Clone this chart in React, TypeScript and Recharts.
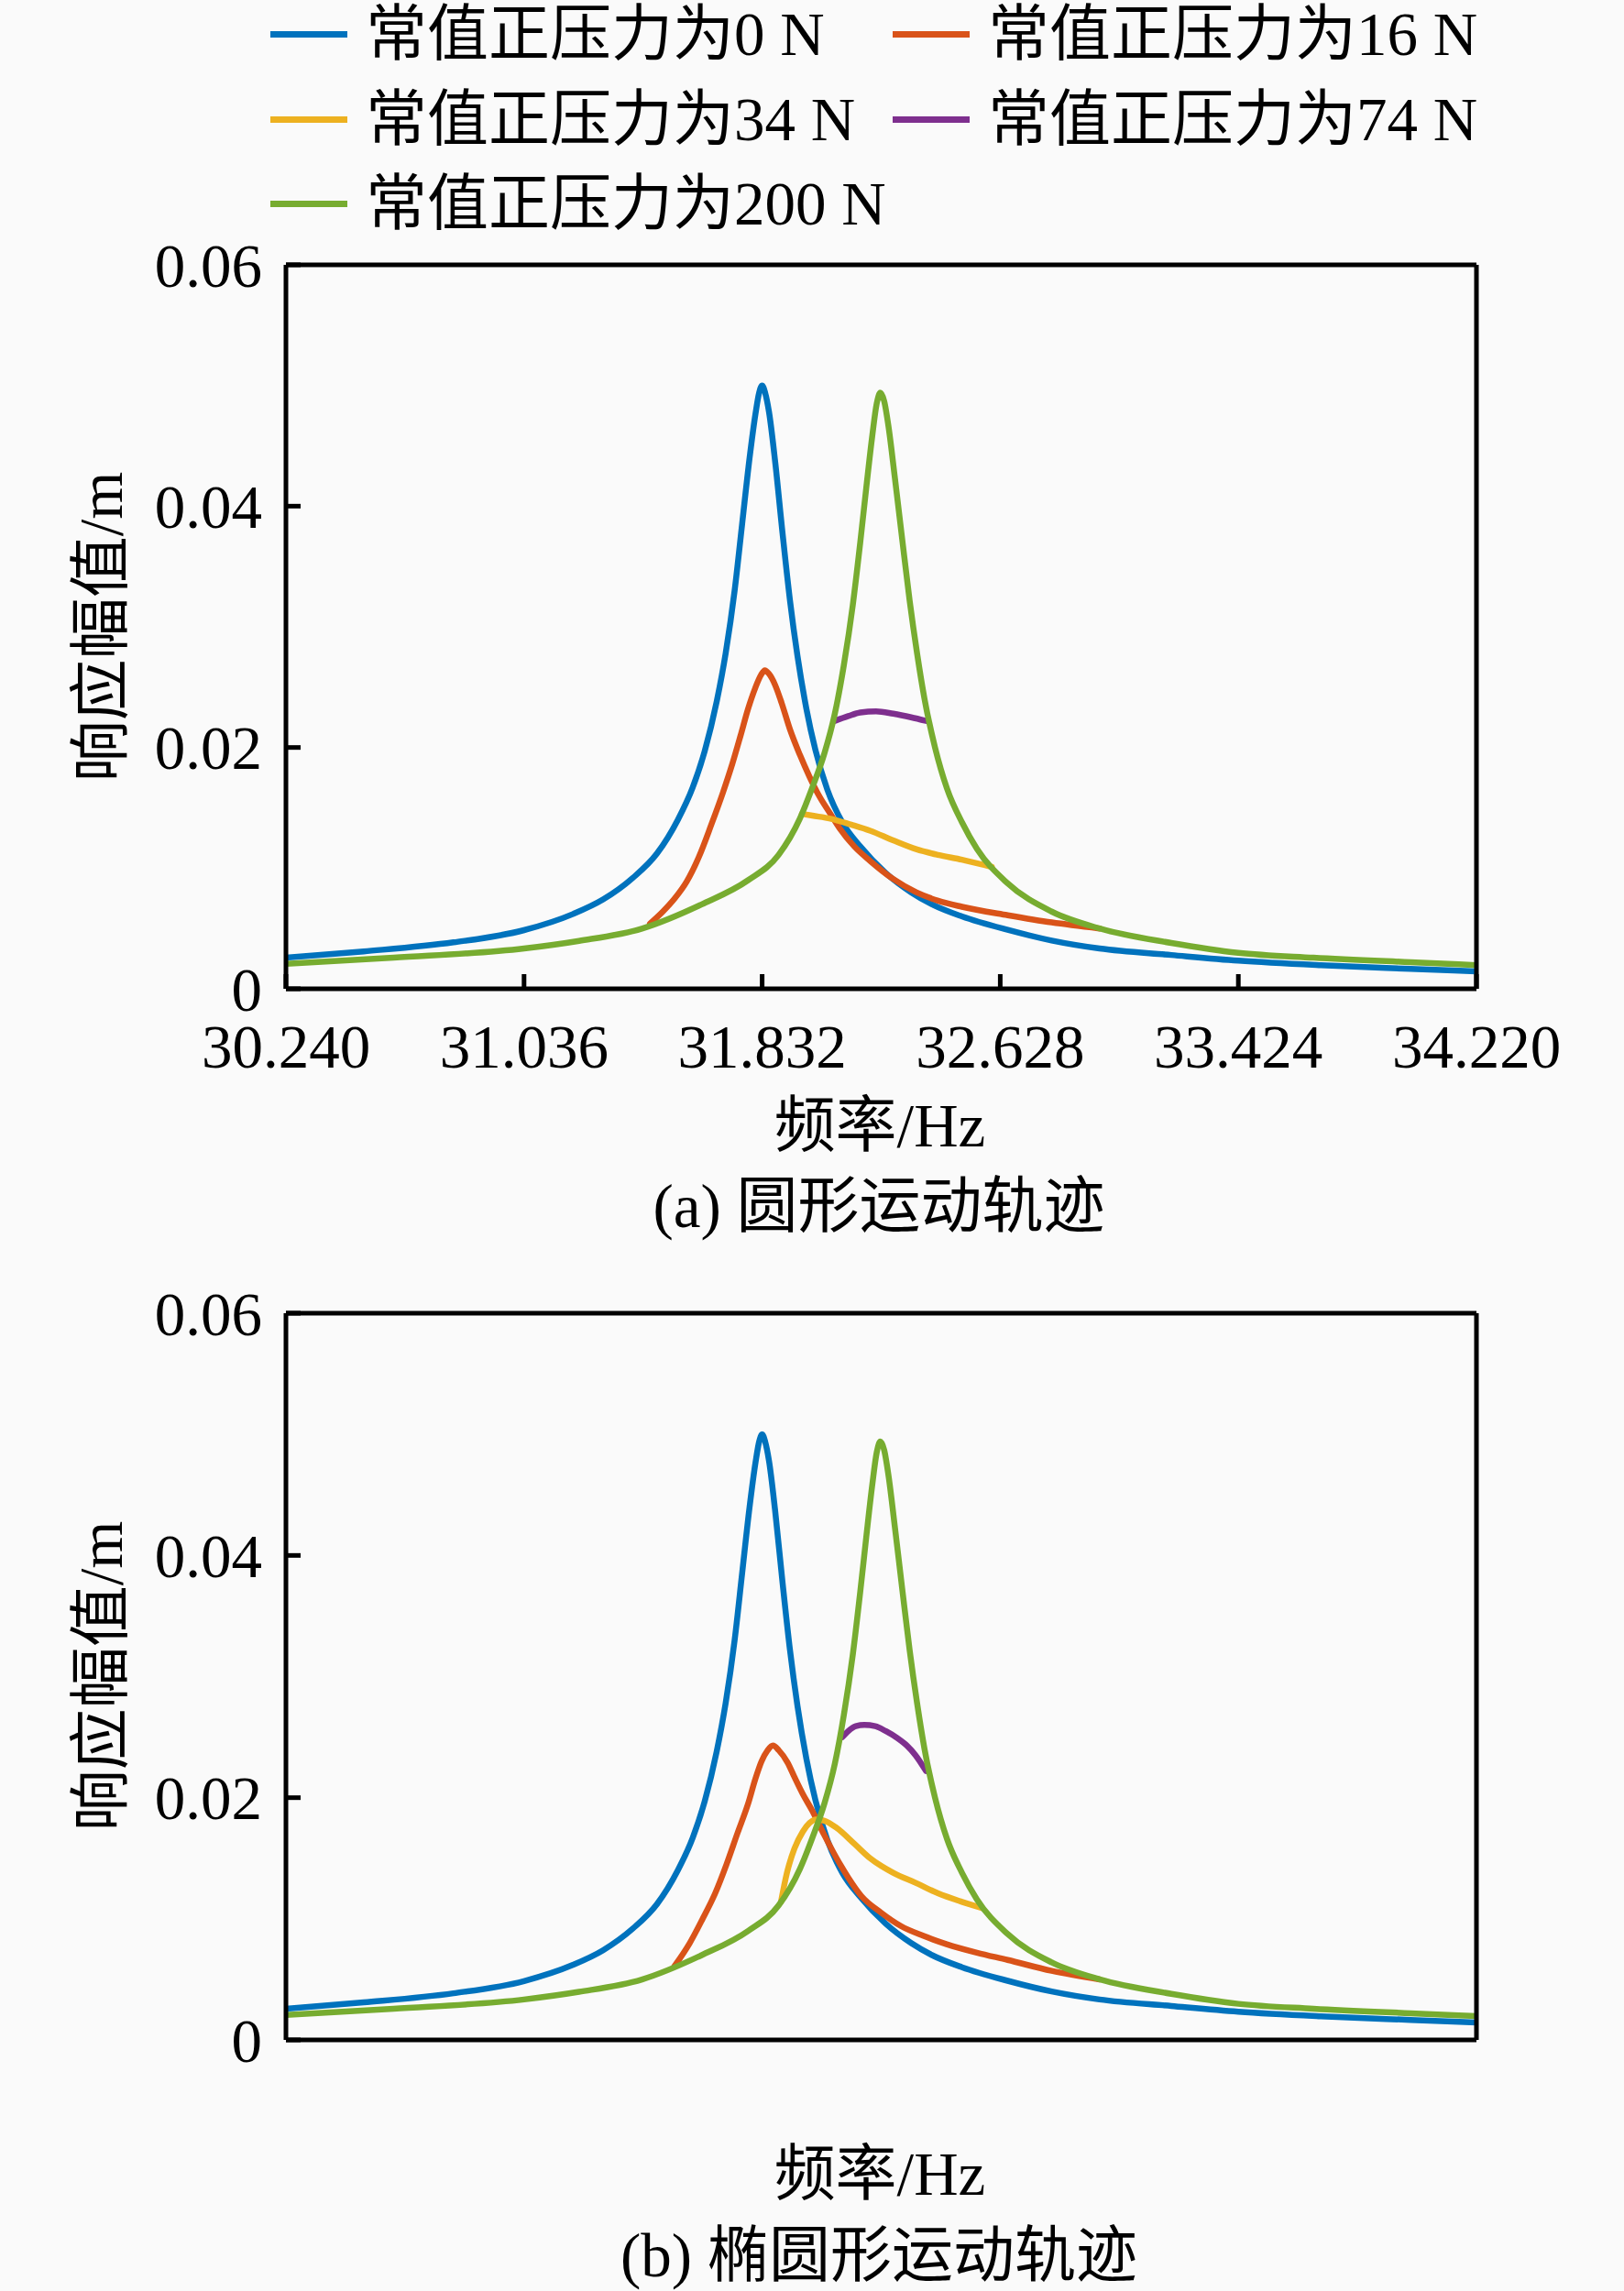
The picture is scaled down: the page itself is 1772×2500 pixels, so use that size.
import React from 'react';
import { LineChart, Line, XAxis, YAxis } from 'recharts';

// ---------- labels ----------
const SERIES_NAMES = ['常值正压力为0 N', '常值正压力为16 N', '常值正压力为34 N', '常值正压力为74 N', '常值正压力为200 N'];
const SERIES_COLORS = ['#0072BD', '#D95319', '#EDB120', '#7E2F8E', '#77AC30'];
const X_TICKS = [30.24, 31.036, 31.832, 32.628, 33.424, 34.22];
const Y_TICKS = [0, 0.02, 0.04, 0.06];
const X_TITLE = '频率/Hz';
const Y_TITLE = '响应幅值/m';
const CAPTION_A = '(a) 圆形运动轨迹';
const CAPTION_B = '(b) 椭圆形运动轨迹';

// ---------- 0 N (same in both panels) ----------
const F_0N = [30.24, 30.5, 30.8, 31.036, 31.2, 31.3, 31.4, 31.48, 31.55, 31.6, 31.64, 31.68, 31.71, 31.74, 31.765, 31.79, 31.81, 31.822, 31.832, 31.842, 31.855, 31.875, 31.9, 31.925, 31.95, 31.98, 32.01, 32.05, 32.1, 32.16, 32.245, 32.33, 32.4, 32.5, 32.65, 32.8, 32.96, 33.2, 33.424, 33.7, 34.0, 34.22];
const A_0N = [0.00258, 0.0031, 0.00385, 0.00486, 0.0062, 0.0074, 0.0092, 0.0112, 0.014, 0.0167, 0.0197, 0.0238, 0.0278, 0.033, 0.0385, 0.044, 0.0477, 0.0494, 0.05, 0.0494, 0.0478, 0.0438, 0.0378, 0.0322, 0.0276, 0.0232, 0.0198, 0.0165, 0.0138, 0.0118, 0.0096, 0.008, 0.007, 0.006, 0.0049, 0.004, 0.00334, 0.0028, 0.00233, 0.00195, 0.00165, 0.00144];

// ---------- 200 N (same in both panels) ----------
const F_200N = [30.24, 30.6, 31.036, 31.22, 31.43, 31.63, 31.785, 31.887, 31.958, 32.0, 32.04, 32.075, 32.105, 32.135, 32.16, 32.18, 32.2, 32.215, 32.227, 32.24, 32.255, 32.275, 32.3, 32.325, 32.35, 32.375, 32.41, 32.45, 32.5, 32.55, 32.65, 32.8, 32.96, 33.2, 33.424, 33.675, 34.0, 34.22];
const A_200N = [0.00207, 0.00258, 0.00334, 0.00397, 0.00499, 0.007, 0.009, 0.0111, 0.0141, 0.0167, 0.0195, 0.0228, 0.0268, 0.0318, 0.037, 0.0415, 0.0458, 0.0485, 0.0494, 0.0487, 0.0465, 0.0425, 0.0373, 0.0322, 0.0278, 0.024, 0.02, 0.0166, 0.0138, 0.0116, 0.0088, 0.0064, 0.005, 0.0038, 0.00298, 0.00258, 0.0022, 0.00196];

// ---------- panel (a): visible branches ----------
const F_16N_A = [31.457, 31.5, 31.54, 31.58, 31.62, 31.662, 31.7, 31.733, 31.76, 31.785, 31.81, 31.828, 31.841, 31.855, 31.875, 31.897, 31.925, 31.958, 31.99, 32.02, 32.06, 32.091, 32.14, 32.193, 32.27, 32.347, 32.42, 32.5, 32.653, 32.8, 32.96];
const A_16N_A = [0.0054, 0.0064, 0.0075, 0.0089, 0.0109, 0.0136, 0.0162, 0.0187, 0.021, 0.0232, 0.025, 0.026, 0.0264, 0.0261, 0.0252, 0.0237, 0.0215, 0.0194, 0.0176, 0.0161, 0.0145, 0.0133, 0.0118, 0.0106, 0.0091, 0.008, 0.0073, 0.0068, 0.0061, 0.0055, 0.005];
const F_34N_A = [31.965, 32.0, 32.06, 32.13, 32.193, 32.27, 32.347, 32.42, 32.5, 32.6];
const A_34N_A = [0.0145, 0.01435, 0.0141, 0.0136, 0.0131, 0.0123, 0.01157, 0.0111, 0.0107, 0.0101];
const F_74N_A = [32.075, 32.12, 32.16, 32.213, 32.27, 32.33, 32.38];
const A_74N_A = [0.0222, 0.0226, 0.0229, 0.023, 0.0228, 0.0225, 0.0222];

// ---------- panel (b): visible branches ----------
const F_16N_B = [31.539, 31.59, 31.631, 31.675, 31.713, 31.75, 31.785, 31.81, 31.83, 31.85, 31.868, 31.888, 31.917, 31.94, 31.968, 32.0, 32.04, 32.081, 32.12, 32.163, 32.23, 32.296, 32.37, 32.449, 32.55, 32.653, 32.8, 32.96];
const A_16N_B = [0.0061, 0.008, 0.0099, 0.0121, 0.0145, 0.0171, 0.0195, 0.0216, 0.023, 0.0239, 0.0243, 0.0239, 0.0229, 0.0217, 0.0203, 0.0189, 0.0169, 0.015, 0.0134, 0.0119, 0.0105, 0.0094, 0.0086, 0.0079, 0.0072, 0.0066, 0.0057, 0.005];
const F_34N_B = [31.895, 31.915, 31.94, 31.968, 31.99, 32.012, 32.04, 32.081, 32.14, 32.193, 32.27, 32.347, 32.42, 32.5, 32.565];
const A_34N_B = [0.0114, 0.0138, 0.0158, 0.0172, 0.0179, 0.0182, 0.0181, 0.0175, 0.0162, 0.015, 0.0138, 0.01295, 0.0121, 0.0114, 0.0109];
const F_74N_B = [32.1, 32.12, 32.145, 32.174, 32.21, 32.245, 32.285, 32.316, 32.345, 32.38];
const A_74N_B = [0.025, 0.0255, 0.0259, 0.026, 0.0259, 0.0255, 0.0249, 0.0243, 0.0235, 0.0222];

const pts = (f: number[], a: number[]) => f.map((x, i) => ({ f: x, v: a[i] }));

const FONT = "'Liberation Serif', 'Noto Sans CJK SC', serif";
const FS = 67;
const AXIS_W = 5;
const LINE_W = 6.5;
const W = 1772;
const PLOT_L = 312;
const PLOT_R = 1611;

type Series = { name: string; color: string; data: { f: number; v: number }[] };

function Panel(props: { top: number; height: number; plotTop: number; plotBottom: number; series: Series[]; showX: boolean }) {
  const { top, height, plotTop, plotBottom, series, showX } = props;
  const bottomAxisH = showX ? 90 : 20;
  const margin = {
    top: plotTop - top - 20,
    bottom: top + height - plotBottom - bottomAxisH,
    left: PLOT_L - 100,
    right: W - PLOT_R - 20,
  };
  const axisLine = { stroke: '#000', strokeWidth: AXIS_W };
  const tickLine = { stroke: '#000', strokeWidth: AXIS_W };
  const tickStyle = { fill: '#000', fontSize: FS, fontFamily: FONT };
  return (
    <div style={{ position: 'absolute', left: 0, top }}>
      <LineChart width={W} height={height} margin={margin}>
        <XAxis
          xAxisId={0}
          dataKey="f"
          type="number"
          domain={[30.24, 34.22]}
          allowDataOverflow
          ticks={X_TICKS}
          interval={0}
          height={bottomAxisH}
          axisLine={axisLine}
          tickLine={tickLine}
          tickSize={-16}
          tickMargin={54}
          tick={showX ? tickStyle : false}
          tickFormatter={(v: number) => v.toFixed(3)}
        />
        <XAxis
          xAxisId="top"
          orientation="top"
          dataKey="f"
          type="number"
          domain={[30.24, 34.22]}
          allowDataOverflow
          ticks={X_TICKS}
          interval={0}
          height={20}
          axisLine={axisLine}
          tickLine={tickLine}
          tickSize={-16}
          tick={false}
        />
        <YAxis
          yAxisId={0}
          type="number"
          domain={[0, 0.06]}
          allowDataOverflow
          ticks={Y_TICKS}
          interval={0}
          width={100}
          axisLine={axisLine}
          tickLine={tickLine}
          tickSize={-16}
          tickMargin={42}
          tick={tickStyle}
          tickFormatter={(v: number) => (v === 0 ? '0' : v.toFixed(2))}
        />
        <YAxis
          yAxisId="right"
          orientation="right"
          type="number"
          domain={[0, 0.06]}
          allowDataOverflow
          ticks={Y_TICKS}
          interval={0}
          width={20}
          axisLine={axisLine}
          tickLine={tickLine}
          tickSize={-16}
          tick={false}
        />
        {series.map((s) => (
          <Line
            key={s.name}
            data={s.data}
            dataKey="v"
            name={s.name}
            type="monotone"
            stroke={s.color}
            strokeWidth={LINE_W}
            strokeLinejoin="round"
            strokeLinecap="round"
            dot={false}
            activeDot={false}
            isAnimationActive={false}
          />
        ))}
      </LineChart>
    </div>
  );
}

const textBase: React.CSSProperties = {
  position: 'absolute',
  whiteSpace: 'nowrap',
  fontFamily: FONT,
  fontSize: FS,
  lineHeight: 1,
  color: '#000',
};

function Txt(props: { x: number; y: number; children: React.ReactNode }) {
  const { x, y, children } = props;
  return <div style={{ ...textBase, left: x, top: y, transform: 'translate(-50%, -50%)' }}>{children}</div>;
}

function VTxt(props: { x: number; y: number; children: React.ReactNode }) {
  const { x, y, children } = props;
  return (
    <div
      style={{
        ...textBase,
        left: x,
        top: y,
        writingMode: 'vertical-rl',
        textOrientation: 'sideways',
        transform: 'translate(-50%, -50%) rotate(180deg)',
      }}
    >
      {children}
    </div>
  );
}

const LEGEND_ROWS_Y = [37, 130, 222];
const LEGEND_COLS_X = [295, 974];

export default function App() {
  const seriesA: Series[] = [
    { name: SERIES_NAMES[0], color: SERIES_COLORS[0], data: pts(F_0N, A_0N) },
    { name: SERIES_NAMES[1], color: SERIES_COLORS[1], data: pts(F_16N_A, A_16N_A) },
    { name: SERIES_NAMES[2], color: SERIES_COLORS[2], data: pts(F_34N_A, A_34N_A) },
    { name: SERIES_NAMES[3], color: SERIES_COLORS[3], data: pts(F_74N_A, A_74N_A) },
    { name: SERIES_NAMES[4], color: SERIES_COLORS[4], data: pts(F_200N, A_200N) },
  ];
  const seriesB: Series[] = [
    { name: SERIES_NAMES[0], color: SERIES_COLORS[0], data: pts(F_0N, A_0N) },
    { name: SERIES_NAMES[1], color: SERIES_COLORS[1], data: pts(F_16N_B, A_16N_B) },
    { name: SERIES_NAMES[2], color: SERIES_COLORS[2], data: pts(F_34N_B, A_34N_B) },
    { name: SERIES_NAMES[3], color: SERIES_COLORS[3], data: pts(F_74N_B, A_74N_B) },
    { name: SERIES_NAMES[4], color: SERIES_COLORS[4], data: pts(F_200N, A_200N) },
  ];
  return (
    <div style={{ position: 'absolute', left: 0, top: 0, width: W, height: 2500, background: '#fafafa', overflow: 'hidden' }}>
      <Panel top={0} height={1210} plotTop={289} plotBottom={1079} series={seriesA} showX />
      <Panel top={1340} height={970} plotTop={1433} plotBottom={2226} series={seriesB} showX={false} />

      {SERIES_NAMES.map((n, i) => {
        const row = Math.floor(i / 2);
        const col = i % 2;
        const y = LEGEND_ROWS_Y[row];
        const x = LEGEND_COLS_X[col];
        return (
          <div key={n}>
            <div style={{ position: 'absolute', left: x, top: y - 3.5, width: 84, height: 7, background: SERIES_COLORS[i] }} />
            <div style={{ ...textBase, left: x + 104, top: y, transform: 'translateY(-50%)' }}>{n}</div>
          </div>
        );
      })}

      <VTxt x={110} y={684}>{Y_TITLE}</VTxt>
      <Txt x={960} y={1228}>{X_TITLE}</Txt>
      <Txt x={959} y={1316}>{CAPTION_A}</Txt>

      <VTxt x={110} y={1829}>{Y_TITLE}</VTxt>
      <Txt x={960} y={2372}>{X_TITLE}</Txt>
      <Txt x={959} y={2461}>{CAPTION_B}</Txt>
    </div>
  );
}
